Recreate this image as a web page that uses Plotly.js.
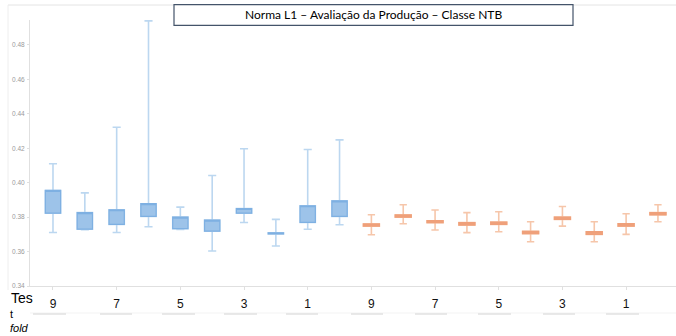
<!DOCTYPE html>
<html>
<head>
<meta charset="utf-8">
<script src="https://cdn.plot.ly/plotly-3.0.1.min.js"></script>
<style>
html,body{margin:0;padding:0;background:#fff;}
#chart{width:676px;height:336px;}
</style>
</head>
<body>
<div id="chart"></div>
<script>
// ---- data ----
const foldLabels = ['9','8','7','6','5','4','3','2','1','0'];
// Blue series (first 10 boxes)
const blueLower  = [0.3711,0.3727,0.3711,0.3744,0.3729,0.3603,0.3769,0.3632,0.3730,0.3756];
const blueQ1     = [0.3823,0.3730,0.3758,0.3804,0.3733,0.3719,0.3823,0.3703,0.3769,0.3804];
const blueMedian = [0.3955,0.3826,0.3843,0.3878,0.3800,0.3783,0.3850,0.3709,0.3866,0.3895];
const blueQ3     = [0.3955,0.3826,0.3843,0.3878,0.3800,0.3783,0.3850,0.3709,0.3866,0.3895];
const blueUpper  = [0.4110,0.3941,0.4322,0.4940,0.3858,0.4042,0.4197,0.3787,0.4193,0.4249];
// Orange series (last 10 boxes)
const orangeLower  = [0.3698,0.3762,0.3725,0.3710,0.3715,0.3657,0.3748,0.3657,0.3700,0.3773];
const orangeQ1     = [0.3748,0.3800,0.3768,0.3754,0.3758,0.3704,0.3787,0.3700,0.3748,0.3814];
const orangeMedian = [0.3760,0.3812,0.3779,0.3768,0.3771,0.3717,0.3800,0.3715,0.3762,0.3826];
const orangeQ3     = [0.3760,0.3812,0.3779,0.3768,0.3771,0.3717,0.3800,0.3715,0.3762,0.3826];
const orangeUpper  = [0.3814,0.3872,0.3841,0.3826,0.3831,0.3773,0.3862,0.3773,0.3820,0.3872];
const yTicks = [0.34,0.36,0.38,0.40,0.42,0.44,0.46,0.48];
const titleText = 'Norma L1 – Avaliação da Produção – Classe NTB';

// ---- build ----
const nB = foldLabels.length;
const xBlue = foldLabels.map((_, i) => i);
const xOrange = foldLabels.map((_, i) => i + nB);
const allLabels = foldLabels.concat(foldLabels);
const tickIdx = [], tickTxt = [];
allLabels.forEach((l, i) => { if (i % 2 === 0) { tickIdx.push(i); tickTxt.push(l); } });

function whiskerTrace(x, lo, q1, med, q3, hi, color, w, ww, lw) {
  return {type:'box', x:x, lowerfence:lo, q1:q1, median:med, q3:q3, upperfence:hi,
    boxpoints:false, width:w, whiskerwidth:ww, hoverinfo:'skip',
    line:{color:color, width:lw}, fillcolor:'rgba(0,0,0,0)', showlegend:false};
}
function boxTrace(x, q1, med, q3, lineColor, fill, w, lw) {
  return {type:'box', x:x, lowerfence:q1, q1:q1, median:med, q3:q3, upperfence:q3,
    boxpoints:false, width:w, whiskerwidth:0, hoverinfo:'skip',
    line:{color:lineColor, width:lw}, fillcolor:fill, showlegend:false};
}

const traces = [
  whiskerTrace(xBlue, blueLower, blueQ1, blueMedian, blueQ3, blueUpper, '#bcd7f0', 0.48, 0.53, 1.6),
  boxTrace(xBlue, blueQ1, blueMedian, blueQ3, '#7eb0e2', '#9dc3e9', 0.48, 1.2),
  whiskerTrace(xOrange, orangeLower, orangeQ1, orangeMedian, orangeQ3, orangeUpper, '#f6c6aa', 0.5, 0.46, 1.6),
  boxTrace(xOrange, orangeQ1, orangeMedian, orangeQ3, '#efa07a', '#f2a985', 0.5, 1.4)
];

// paper-coordinate helpers for decoration
const L = 30, T = 20, W = 646, H = 266;
const px = v => (v - L) / W;
const py = v => (T + H - v) / H;

const shapes = [
  {type:'line', xref:'paper', yref:'paper', x0:px(8), x1:px(676), y0:py(5), y1:py(5), line:{color:'#e4e4e4', width:1}},
  {type:'line', xref:'paper', yref:'paper', x0:px(8), x1:px(8), y0:py(5), y1:py(290), line:{color:'#eeeeee', width:1}},
  {type:'rect', xref:'paper', yref:'paper', x0:px(174), x1:px(573), y0:py(25.3), y1:py(4.7), line:{color:'#44546a', width:1.2}, fillcolor:'#ffffff'},
  {type:'line', xref:'paper', yref:'paper', x0:px(30), x1:px(676), y0:py(313), y1:py(313), line:{color:'#f3f3f3', width:1}}
];
[[33,66],[100,132],[162,195],[224,257],[286,318],[351,383],[415,447],[478,511],[543,575],[606,639]].forEach(s => {
  shapes.push({type:'line', xref:'paper', yref:'paper', x0:px(s[0]), x1:px(s[1]), y0:py(314), y1:py(314), line:{color:'#d4d4d4', width:1}});
});

const annotations = [
  {xref:'paper', yref:'paper', x:px(373.5), y:py(15), text:titleText, showarrow:false,
   font:{family:'Lato, Liberation Sans, sans-serif', size:12, color:'#000'}, xanchor:'center', yanchor:'middle'},
  {xref:'paper', yref:'paper', x:px(9), y:py(298), text:'Tes', showarrow:false, xanchor:'left', yanchor:'middle',
   font:{family:'Liberation Sans, Arial, sans-serif', size:14, color:'#000'}},
  {xref:'paper', yref:'paper', x:px(8), y:py(336), text:'t<br><i>fold</i>', showarrow:false, xanchor:'left', yanchor:'bottom', align:'left',
   font:{family:'Liberation Sans, Arial, sans-serif', size:11, color:'#000'}}
];

const layout = {
  width:676, height:336,
  margin:{l:L, r:0, t:T, b:50, pad:0},
  paper_bgcolor:'#fff', plot_bgcolor:'#fff',
  boxmode:'overlay', showlegend:false,
  xaxis:{range:[-0.722, 19.567], tickvals:tickIdx, ticktext:tickTxt,
    showgrid:false, zeroline:false, showline:true, linecolor:'#e0e0e0', linewidth:1,
    ticks:'outside', ticklen:3, tickcolor:'#e0e0e0', ticklabelstandoff:4,
    tickfont:{family:'Liberation Sans, Arial, sans-serif', size:12, color:'#111'}},
  yaxis:{range:[0.34, 0.4945], tickvals:yTicks, ticktext:yTicks.map(v => v.toFixed(2)),
    showgrid:false, zeroline:false, showline:true, linecolor:'#e0e0e0', linewidth:1,
    ticks:'outside', ticklen:2, tickcolor:'#e0e0e0', ticklabelstandoff:1,
    tickfont:{family:'Liberation Sans, Arial, sans-serif', size:6.5, color:'#9a9a9a'}},
  shapes:shapes, annotations:annotations
};

Plotly.newPlot('chart', traces, layout, {displayModeBar:false, staticPlot:true});
</script>
</body>
</html>
